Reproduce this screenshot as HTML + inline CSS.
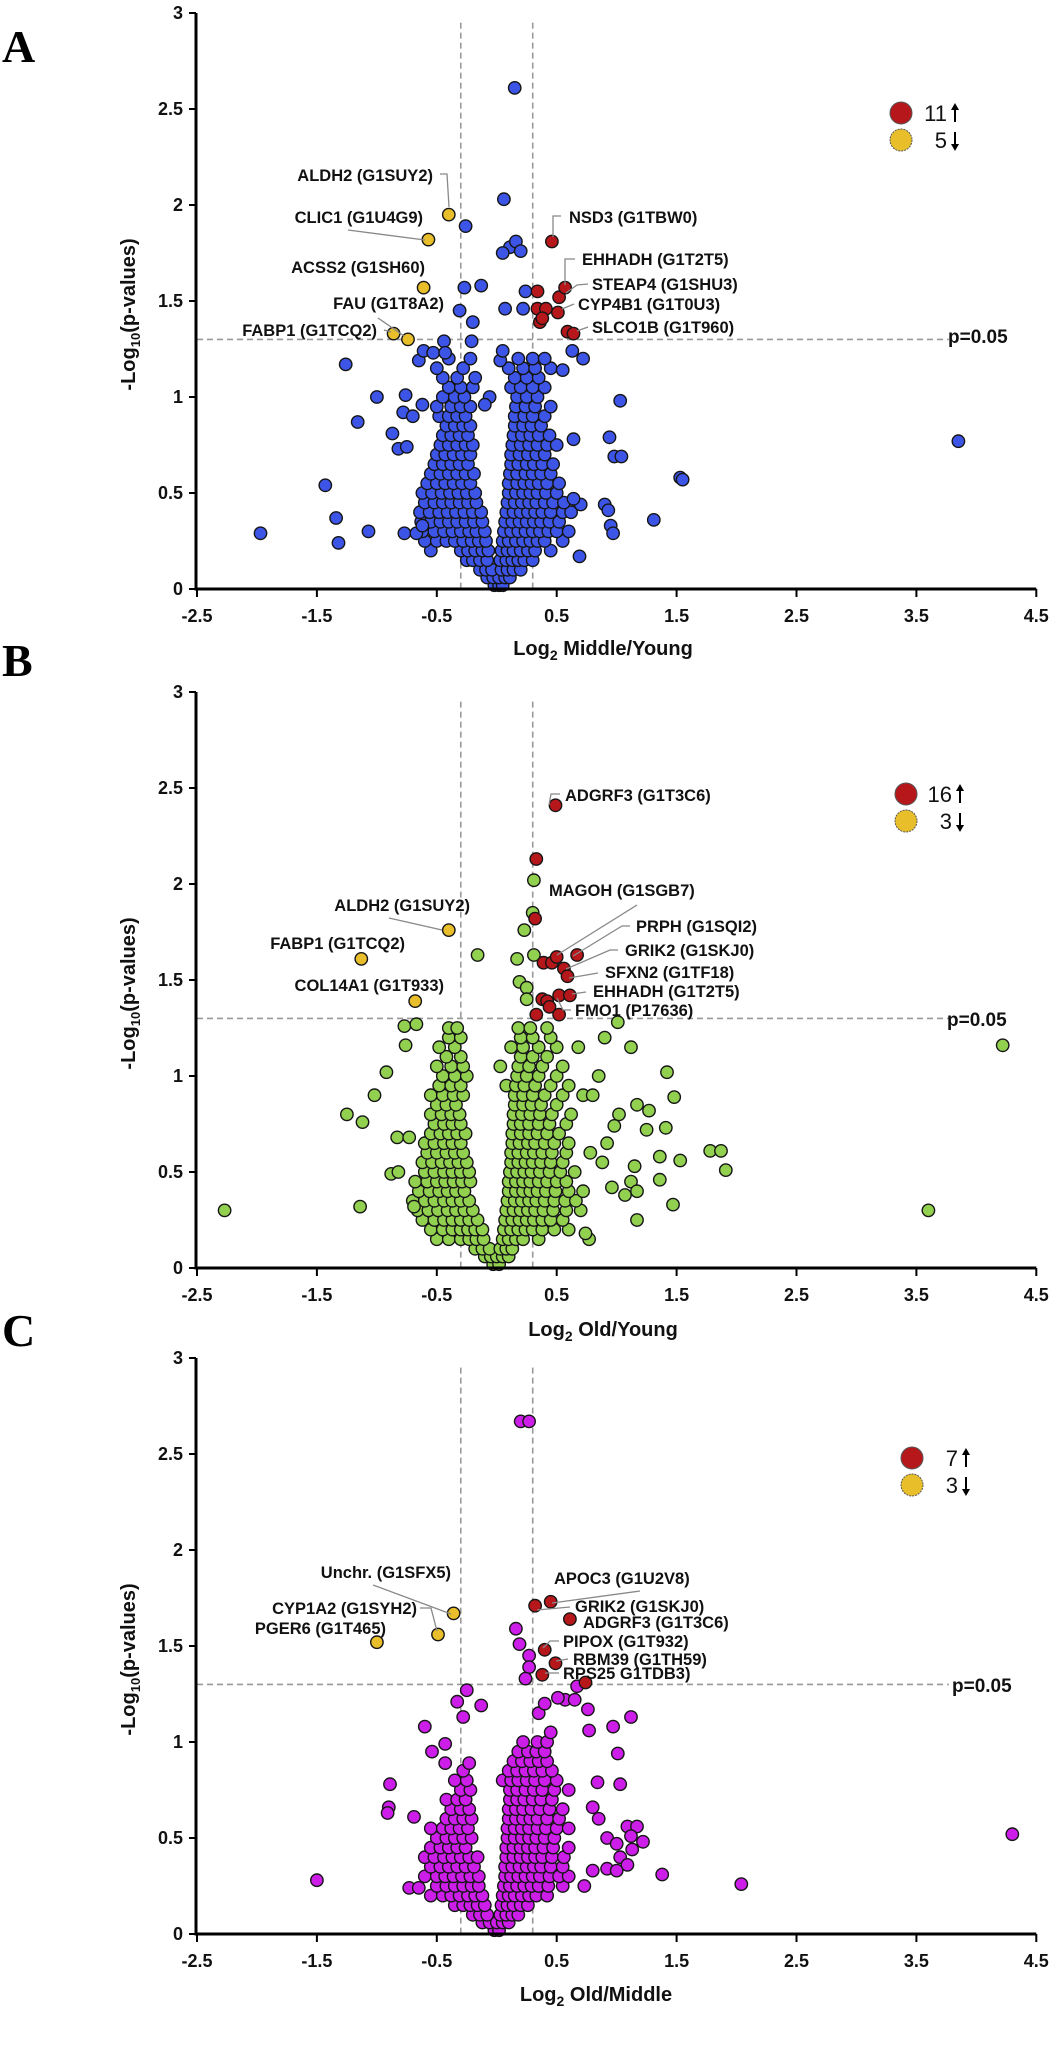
<!DOCTYPE html>
<html><head><meta charset="utf-8">
<style>
html,body{margin:0;padding:0;background:#fff;}
svg{display:block;font-family:"Liberation Sans",Arial,sans-serif;}
.lbl{font-weight:bold;font-size:16.5px;fill:#111;}
.tick{font-weight:bold;font-size:18px;fill:#111;}
.pl{font-weight:bold;font-size:19px;fill:#111;}
.ttl{font-weight:bold;font-size:20px;fill:#111;}
.leg{font-size:22px;fill:#111;}
.panel{font-family:"Liberation Serif",serif;font-weight:bold;font-size:46px;fill:#000;}
.ld{stroke:#888;stroke-width:1.3;fill:none;}
</style></head>
<body>
<svg id="fig" width="1053" height="2064" viewBox="0 0 1053 2064" xmlns="http://www.w3.org/2000/svg">
<rect width="1053" height="2064" fill="#fff"/>
<text class="panel" x="2" y="62">A</text>
<text class="panel" x="2" y="676">B</text>
<text class="panel" x="2" y="1346">C</text>
<g id="gA"></g>
<g id="gB"></g>
<g id="gC"></g>

<g>
<text class="lbl" x="433" y="181" text-anchor="end">ALDH2 (G1SUY2)</text>
<polyline class="ld" points="440,174 447,174 449,207"/>
<text class="lbl" x="423" y="223" text-anchor="end">CLIC1 (G1U4G9)</text>
<polyline class="ld" points="348,230 425,240"/>
<text class="lbl" x="425" y="273" text-anchor="end">ACSS2 (G1SH60)</text>
<text class="lbl" x="444" y="309" text-anchor="end">FAU (G1T8A2)</text>
<polyline class="ld" points="378,318 404,336"/>
<text class="lbl" x="377" y="336" text-anchor="end">FABP1 (G1TCQ2)</text>
<polyline class="ld" points="384,330 391,332"/>
<text class="lbl" x="569" y="223">NSD3 (G1TBW0)</text>
<polyline class="ld" points="553,237 553,216 561,216"/>
<text class="lbl" x="582" y="265">EHHADH (G1T2T5)</text>
<polyline class="ld" points="565,285 565,259 575,259"/>
<text class="lbl" x="592" y="290">STEAP4 (G1SHU3)</text>
<polyline class="ld" points="566,293 577,285 588,284"/>
<text class="lbl" x="578" y="310">CYP4B1 (G1T0U3)</text>
<polyline class="ld" points="562,309 574,304"/>
<text class="lbl" x="592" y="333">SLCO1B (G1T960)</text>
<polyline class="ld" points="577,331 588,327"/>
<text class="pl" x="948" y="343">p=0.05</text>
<text class="ttl" x="603" y="655" text-anchor="middle">Log<tspan font-size="14" dy="5">2</tspan><tspan dy="-5"> Middle/Young</tspan></text>
</g>

<g transform="translate(0,-18)">
<text class="lbl" x="565" y="819">ADGRF3 (G1T3C6)</text>
<polyline class="ld" points="549,823 551,812 560,812"/>
<text class="lbl" x="549" y="914">MAGOH (G1SGB7)</text>
<polyline class="ld" points="637,923 557,973"/>
<text class="lbl" x="636" y="950">PRPH (G1SQI2)</text>
<polyline class="ld" points="630,944 622,944 573,974"/>
<text class="lbl" x="625" y="974">GRIK2 (G1SKJ0)</text>
<polyline class="ld" points="618,968 610,968 566,987"/>
<text class="lbl" x="605" y="996">SFXN2 (G1TF18)</text>
<polyline class="ld" points="598,991 569,996"/>
<text class="lbl" x="593" y="1015">EHHADH (G1T2T5)</text>
<polyline class="ld" points="586,1010 572,1012"/>
<text class="lbl" x="575" y="1034">FMO1 (P17636)</text>
<polyline class="ld" points="571,1028 563,1028 557,1016"/>
<text class="lbl" x="470" y="929" text-anchor="end">ALDH2 (G1SUY2)</text>
<polyline class="ld" points="389,936 442,948"/>
<text class="lbl" x="405" y="967" text-anchor="end">FABP1 (G1TCQ2)</text>
<text class="lbl" x="444" y="1009" text-anchor="end">COL14A1 (G1T933)</text>
<text class="pl" x="947" y="1044">p=0.05</text>
<text class="ttl" x="603" y="1354" text-anchor="middle">Log<tspan font-size="14" dy="5">2</tspan><tspan dy="-5"> Old/Young</tspan></text>
</g>

<g transform="translate(0,-49)">
<text class="lbl" x="451" y="1627" text-anchor="end">Unchr. (G1SFX5)</text>
<polyline class="ld" points="373,1634 451,1663"/>
<text class="lbl" x="417" y="1663" text-anchor="end">CYP1A2 (G1SYH2)</text>
<polyline class="ld" points="420,1657 431,1657 437,1680"/>
<text class="lbl" x="386" y="1683" text-anchor="end">PGER6 (G1T465)</text>
<text class="lbl" x="554" y="1633">APOC3 (G1U2V8)</text>
<polyline class="ld" points="640,1640 552,1652"/>
<text class="lbl" x="575" y="1661">GRIK2 (G1SKJ0)</text>
<polyline class="ld" points="570,1656 537,1659"/>
<text class="lbl" x="583" y="1677">ADGRF3 (G1T3C6)</text>
<text class="lbl" x="563" y="1696">PIPOX (G1T932)</text>
<polyline class="ld" points="559,1690 550,1690 543,1697"/>
<text class="lbl" x="573" y="1714">RBM39 (G1TH59)</text>
<polyline class="ld" points="568,1708 556,1710"/>
<text class="lbl" x="563" y="1728">RPS25 G1TDB3)</text>
<polyline class="ld" points="559,1722 545,1722"/>
<text class="pl" x="952" y="1741">p=0.05</text>
<text class="ttl" x="596" y="2050" text-anchor="middle">Log<tspan font-size="14" dy="5">2</tspan><tspan dy="-5"> Old/Middle</tspan></text>
</g>
</svg>

<script>
const xTicks=[-2.5,-1.5,-0.5,0.5,1.5,2.5,3.5,4.5];
const xTickLabels=['-2.5','-1.5','-0.5','0.5','1.5','2.5','3.5','4.5'];
const yTicks=[0,0.5,1,1.5,2,2.5,3];
const yTickLabels=['0','0.5','1','1.5','2','2.5','3'];
const foldCut=[-0.3,0.3];
const pCut=1.3;

const coreA=[
[0.02,[-0.02,0.02,0.05]],
[0.06,[-0.08,-0.03,0.02,0.07,0.11]],
[0.10,[-0.14,-0.09,-0.04,0.04,0.09,0.14,0.2]],
[0.15,[-0.25,-0.2,-0.14,-0.08,0.03,0.08,0.13,0.18,0.23,0.3]],
[0.20,[-0.55,-0.3,-0.24,-0.18,-0.12,-0.07,0.04,0.09,0.14,0.2,0.26,0.32,0.45]],
[0.25,[-0.6,-0.5,-0.42,-0.35,-0.28,-0.21,-0.15,-0.09,0.05,0.1,0.16,0.22,0.28,0.34,0.4,0.55]],
[0.30,[-0.62,-0.52,-0.44,-0.37,-0.3,-0.23,-0.17,-0.1,0.06,0.12,0.18,0.24,0.3,0.36,0.43,0.5,0.6]],
[0.35,[-0.63,-0.55,-0.47,-0.4,-0.33,-0.26,-0.19,-0.12,0.07,0.13,0.19,0.25,0.31,0.37,0.44,0.52]],
[0.40,[-0.64,-0.56,-0.48,-0.41,-0.34,-0.27,-0.2,-0.13,0.08,0.14,0.2,0.26,0.32,0.38,0.45,0.55,0.62]],
[0.45,[-0.6,-0.52,-0.45,-0.38,-0.31,-0.24,-0.17,0.09,0.15,0.21,0.27,0.33,0.4,0.47,0.56]],
[0.50,[-0.62,-0.54,-0.46,-0.39,-0.32,-0.25,-0.18,0.1,0.16,0.22,0.28,0.34,0.41,0.5]],
[0.55,[-0.58,-0.5,-0.43,-0.36,-0.29,-0.22,0.1,0.17,0.23,0.29,0.35,0.42,0.52]],
[0.60,[-0.55,-0.47,-0.4,-0.33,-0.26,-0.19,0.11,0.17,0.24,0.3,0.37,0.45]],
[0.65,[-0.52,-0.45,-0.38,-0.31,-0.24,0.12,0.18,0.25,0.31,0.38,0.47]],
[0.70,[-0.5,-0.43,-0.36,-0.29,-0.22,0.12,0.19,0.26,0.33,0.4]],
[0.75,[-0.47,-0.4,-0.33,-0.26,-0.2,0.13,0.2,0.27,0.34,0.42,0.5]],
[0.80,[-0.45,-0.38,-0.31,-0.24,0.14,0.21,0.28,0.35,0.44]],
[0.85,[-0.42,-0.35,-0.28,-0.22,0.15,0.22,0.29,0.37]],
[0.90,[-0.48,-0.4,-0.33,-0.26,0.15,0.23,0.3,0.4]],
[0.95,[-0.5,-0.38,-0.3,-0.22,0.16,0.24,0.32,0.45]],
[1.00,[-0.45,-0.35,-0.27,0.17,0.25,0.34]],
[1.05,[-0.4,-0.3,-0.2,0.12,0.2,0.3,0.4]],
[1.10,[-0.45,-0.33,-0.18,0.15,0.25,0.35]],
[1.15,[-0.5,-0.28,0.1,0.22,0.32,0.45]],
[1.20,[-0.4,-0.22,0.18,0.3,0.4]]];
const outA=[[0.15,2.61],[0.06,2.03],[-0.26,1.89],[0.11,1.78],[0.16,1.81],[0.05,1.75],[0.2,1.76],[-0.27,1.57],[-0.13,1.58],[0.07,1.46],[-0.31,1.45],[-0.2,1.39],[-0.21,1.29],[0.24,1.55],[0.22,1.46],
[-1.26,1.17],[-1.0,1.0],[-1.16,0.87],[-1.43,0.54],[-0.87,0.81],[-0.82,0.73],[-0.75,0.74],[-0.76,1.01],[-0.78,0.92],[-0.7,0.9],[-0.62,0.96],[-0.65,1.19],[-0.61,1.24],[-0.53,1.23],[-0.44,1.29],[-0.43,1.23],[0.03,1.19],[0.05,1.24],[-0.06,1.0],[-0.1,0.96],
[1.03,0.98],[3.85,0.77],[0.72,1.2],[0.63,1.24],[0.55,1.14],[0.94,0.79],[0.64,0.78],[0.98,0.69],[1.04,0.69],[1.53,0.58],
[-1.97,0.29],[-1.34,0.37],[-1.32,0.24],[-1.07,0.3],[-0.77,0.29],[-0.67,0.29],[-0.62,0.33],[0.69,0.17],[0.9,0.44],[0.93,0.41],[0.95,0.33],[0.97,0.29],[1.31,0.36],[0.7,0.44],[1.55,0.57],[0.64,0.47]];
const upA=[[0.46,1.81],[0.34,1.55],[0.34,1.46],[0.41,1.46],[0.36,1.39],[0.38,1.41],[0.52,1.52],[0.57,1.57],[0.51,1.44],[0.59,1.34],[0.64,1.33]];
const downA=[[-0.4,1.95],[-0.57,1.82],[-0.61,1.57],[-0.74,1.3],[-0.86,1.33]];

const coreB=[
[0.02,[-0.03,0.02]],
[0.06,[-0.1,-0.05,0.0,0.05,0.1]],
[0.10,[-0.18,-0.12,-0.06,0.03,0.08,0.13]],
[0.15,[-0.5,-0.4,-0.3,-0.23,-0.17,-0.11,0.05,0.1,0.16,0.22,0.35]],
[0.20,[-0.55,-0.45,-0.37,-0.3,-0.24,-0.18,-0.12,0.06,0.12,0.18,0.24,0.3,0.38,0.48,0.6]],
[0.25,[-0.62,-0.52,-0.44,-0.37,-0.3,-0.23,-0.16,0.07,0.13,0.19,0.25,0.31,0.38,0.45,0.55]],
[0.30,[-0.66,-0.57,-0.49,-0.41,-0.34,-0.27,-0.2,0.08,0.14,0.2,0.26,0.32,0.39,0.47,0.58,0.7]],
[0.35,[-0.7,-0.6,-0.52,-0.44,-0.37,-0.3,-0.23,0.09,0.15,0.21,0.27,0.33,0.4,0.48,0.57,0.66]],
[0.40,[-0.65,-0.56,-0.48,-0.41,-0.34,-0.27,0.1,0.16,0.22,0.28,0.34,0.41,0.49,0.6,0.72]],
[0.45,[-0.68,-0.58,-0.5,-0.43,-0.36,-0.29,-0.22,0.1,0.16,0.22,0.28,0.35,0.42,0.5,0.58]],
[0.50,[-0.6,-0.52,-0.44,-0.37,-0.3,-0.23,0.11,0.17,0.23,0.29,0.36,0.44,0.53,0.65]],
[0.55,[-0.62,-0.54,-0.46,-0.39,-0.32,-0.25,0.12,0.18,0.24,0.3,0.37,0.45,0.55]],
[0.60,[-0.58,-0.5,-0.42,-0.35,-0.28,0.12,0.18,0.25,0.31,0.38,0.46,0.58,0.78]],
[0.65,[-0.6,-0.52,-0.44,-0.37,-0.3,0.13,0.19,0.26,0.32,0.4,0.48,0.6]],
[0.70,[-0.55,-0.47,-0.4,-0.33,-0.26,0.13,0.2,0.27,0.34,0.42,0.52]],
[0.75,[-0.52,-0.44,-0.37,-0.3,0.14,0.2,0.27,0.35,0.44,0.58]],
[0.80,[-0.55,-0.46,-0.38,-0.31,0.14,0.21,0.28,0.36,0.46,0.62]],
[0.85,[-0.5,-0.42,-0.34,0.15,0.22,0.29,0.37,0.5]],
[0.90,[-0.55,-0.45,-0.36,-0.28,0.15,0.22,0.3,0.4,0.55,0.72]],
[0.95,[-0.48,-0.38,-0.3,0.08,0.16,0.23,0.32,0.45,0.6]],
[1.00,[-0.45,-0.35,-0.25,0.17,0.25,0.35,0.5]],
[1.05,[-0.5,-0.38,-0.28,0.03,0.18,0.27,0.38,0.55]],
[1.10,[-0.42,-0.3,0.2,0.3,0.42]],
[1.15,[-0.48,-0.35,0.12,0.22,0.35,0.5,0.68]],
[1.20,[-0.4,-0.3,0.2,0.3,0.45]],
[1.25,[-0.4,-0.33,0.18,0.28,0.42]]];
const outB=[[-2.27,0.3],[-1.14,0.32],[-1.25,0.8],[-1.12,0.76],[-0.92,1.02],[-1.02,0.9],[-0.77,1.26],[-0.67,1.27],[-0.76,1.16],[-0.16,1.63],[0.31,2.02],[0.3,1.85],[0.23,1.76],[0.17,1.61],[0.31,1.63],[0.19,1.49],[0.25,1.46],[0.25,1.4],
[1.01,1.28],[1.12,1.15],[1.42,1.02],[1.48,0.89],[1.17,0.85],[1.27,0.82],[1.25,0.72],[1.41,0.73],[1.02,0.8],[0.98,0.74],[1.78,0.61],[1.87,0.61],[1.91,0.51],[1.53,0.56],[1.36,0.58],[1.36,0.46],[1.15,0.53],[1.12,0.45],[1.17,0.4],[1.17,0.25],[1.47,0.33],[0.96,0.42],[1.07,0.38],[0.77,0.15],[0.74,0.18],
[-0.88,0.49],[-0.82,0.5],[-0.69,0.32],[-0.83,0.68],[-0.73,0.68],[3.6,0.3],[4.22,1.16],[0.85,1.0],[0.9,1.2],[0.8,0.9],[0.88,0.55],[0.92,0.65]];
const upB=[[0.49,2.41],[0.33,2.13],[0.32,1.82],[0.39,1.59],[0.46,1.59],[0.5,1.62],[0.67,1.63],[0.56,1.56],[0.59,1.52],[0.38,1.4],[0.42,1.39],[0.44,1.36],[0.52,1.42],[0.61,1.42],[0.33,1.32],[0.52,1.32]];
const downB=[[-0.4,1.76],[-1.13,1.61],[-0.68,1.39]];

const coreC=[
[0.02,[-0.02,0.02]],
[0.06,[-0.12,-0.06,0.0,0.05,0.1]],
[0.10,[-0.2,-0.14,-0.08,0.03,0.08,0.13,0.18]],
[0.15,[-0.35,-0.28,-0.22,-0.16,-0.1,0.04,0.09,0.14,0.2,0.26]],
[0.20,[-0.55,-0.45,-0.38,-0.31,-0.24,-0.18,-0.12,0.05,0.1,0.15,0.21,0.27,0.33,0.42]],
[0.25,[-0.5,-0.42,-0.35,-0.28,-0.21,-0.15,0.06,0.11,0.17,0.23,0.29,0.35,0.43,0.55]],
[0.30,[-0.6,-0.5,-0.43,-0.36,-0.29,-0.22,-0.15,0.07,0.12,0.18,0.24,0.3,0.36,0.44,0.52,0.6]],
[0.35,[-0.55,-0.47,-0.4,-0.33,-0.26,-0.19,0.07,0.13,0.19,0.25,0.31,0.37,0.45,0.55]],
[0.40,[-0.6,-0.52,-0.44,-0.37,-0.3,-0.23,-0.16,0.08,0.14,0.2,0.26,0.32,0.38,0.46,0.56]],
[0.45,[-0.55,-0.47,-0.4,-0.33,-0.26,0.08,0.14,0.2,0.26,0.32,0.39,0.47,0.6]],
[0.50,[-0.5,-0.42,-0.35,-0.28,-0.21,0.09,0.15,0.21,0.27,0.33,0.4,0.48]],
[0.55,[-0.55,-0.45,-0.38,-0.31,-0.24,0.09,0.15,0.21,0.27,0.34,0.41,0.5,0.6]],
[0.60,[-0.42,-0.35,-0.28,-0.21,0.1,0.16,0.22,0.28,0.34,0.42,0.52]],
[0.65,[-0.38,-0.3,-0.23,0.1,0.16,0.22,0.29,0.36,0.44,0.55]],
[0.70,[-0.42,-0.33,-0.26,0.11,0.17,0.23,0.3,0.37,0.46]],
[0.75,[-0.3,-0.22,0.11,0.17,0.24,0.31,0.38,0.48,0.6]],
[0.80,[-0.35,-0.25,0.05,0.12,0.18,0.25,0.32,0.4,0.5]],
[0.85,[-0.28,0.1,0.17,0.24,0.31,0.38,0.46]],
[0.90,[0.14,0.21,0.28,0.35,0.42]],
[0.95,[0.18,0.26,0.33,0.4]],
[1.00,[0.22,0.34,0.42]]];
const outC=[[0.2,2.67],[0.27,2.67],[0.16,1.59],[0.19,1.51],[0.27,1.45],[0.27,1.39],[0.24,1.33],[0.67,1.29],[-0.25,1.27],[-0.33,1.21],[-0.28,1.13],[-0.13,1.19],[-0.6,1.08],[-0.43,0.99],[-0.54,0.95],[-0.43,0.89],[-0.23,0.89],[-0.89,0.78],[-0.9,0.66],[-0.91,0.63],[-0.69,0.61],[-1.5,0.28],[-0.73,0.24],[-0.65,0.24],
[0.76,1.17],[1.12,1.13],[0.97,1.08],[0.77,1.06],[1.01,0.94],[1.03,0.78],[0.84,0.79],[0.8,0.66],[0.85,0.6],[1.09,0.56],[1.17,0.56],[1.22,0.48],[1.12,0.51],[0.92,0.5],[1.0,0.47],[1.03,0.4],[1.13,0.44],[1.09,0.36],[0.92,0.34],[1.0,0.33],[0.8,0.33],[0.73,0.25],[0.57,1.22],[0.65,1.22],[0.51,1.23],[2.04,0.26],[4.3,0.52],[1.38,0.31],[0.35,1.15],[0.45,1.05],[0.4,1.2]];
const upC=[[0.45,1.73],[0.32,1.71],[0.61,1.64],[0.4,1.48],[0.49,1.41],[0.38,1.35],[0.74,1.31]];
const downC=[[-0.36,1.67],[-0.49,1.56],[-1.0,1.52]];

const legendCounts=[[11,5],[16,3],[7,3]];

const NS='http://www.w3.org/2000/svg';
const X0=197, XPU=119.9, XMIN=-2.5, XMAX=4.5;
const panels=[
 {g:'gA',core:coreA,out:outA,up:upA,down:downA,color:'#3d55e6',zero:589,ppu:192,leg:[901,113]},
 {g:'gB',core:coreB,out:outB,up:upB,down:downB,color:'#92d050',zero:1268,ppu:192,leg:[906,794]},
 {g:'gC',core:coreC,out:outC,up:upC,down:downC,color:'#cc1ee8',zero:1934,ppu:192,leg:[912,1458]}];

function mk(tag,attrs,parent){const e=document.createElementNS(NS,tag);for(const k in attrs)e.setAttribute(k,attrs[k]);parent.appendChild(e);return e;}

panels.forEach((p,pi)=>{
 const g=document.getElementById(p.g);
 const sx=v=>X0+(v-XMIN)*XPU;
 const sy=v=>p.zero-v*p.ppu;
 foldCut.forEach(c=>{
  const l=mk('line',{x1:sx(c),x2:sx(c),y1:sy(2.95),y2:sy(0),stroke:'#999','stroke-width':1.6,'stroke-dasharray':'6,4'},g);
  
  
 });
 const h=mk('line',{x1:sx(XMIN),x2:sx(3.77),y1:sy(pCut),y2:sy(pCut),stroke:'#999','stroke-width':1.6,'stroke-dasharray':'6,4'},g);
 
 
 const dot=(x,y,fill,name)=>{
  const c=mk('circle',{cx:sx(x).toFixed(1),cy:sy(y).toFixed(1),r:6.2,fill:fill,stroke:'#151515','stroke-width':1.4},g);
  
  
 };
 p.core.forEach(row=>row[1].forEach(x=>dot(x,row[0],p.color,'protein-point')));
 p.out.forEach(d=>dot(d[0],d[1],p.color,'protein-point'));
 p.down.forEach(d=>dot(d[0],d[1],'#e8bf2a','down-regulated-point'));
 p.up.forEach(d=>dot(d[0],d[1],'#b5171b','up-regulated-point'));
 const ya=mk('line',{x1:X0-1,x2:X0-1,y1:sy(3),y2:sy(0)+1.5,stroke:'#000','stroke-width':3},g);
 
 
 const xa=mk('line',{x1:X0-2,x2:sx(XMAX),y1:sy(0),y2:sy(0),stroke:'#000','stroke-width':3},g);
 
 
 yTicks.forEach((t,i)=>{
  mk('line',{x1:X0-8,x2:X0-1,y1:sy(t),y2:sy(t),stroke:'#000','stroke-width':2},g);
  const tx=mk('text',{x:X0-14,y:sy(t)+6,'text-anchor':'end',class:'tick'},g);
  tx.textContent=yTickLabels[i];
  
  
 });
 xTicks.forEach((t,i)=>{
  mk('line',{x1:sx(t),x2:sx(t),y1:sy(0),y2:sy(0)+8,stroke:'#000','stroke-width':2},g);
  const tx=mk('text',{x:sx(t),y:sy(0)+33,'text-anchor':'middle',class:'tick'},g);
  tx.textContent=xTickLabels[i];
  
  
 });
 const cy=sy(1.43);
 const yt=mk('text',{x:135,y:cy,'text-anchor':'middle',class:'ttl',transform:'rotate(-90 135 '+cy+')'},g);
 yt.innerHTML='-Log<tspan font-size="13" dy="5">10</tspan><tspan dy="-5">(p-values)</tspan>';
 
 
 const [lx,ly]=p.leg;
 const lr=mk('circle',{cx:lx,cy:ly,r:11,fill:'#b5171b',stroke:'#555','stroke-width':1},g);
 
 
 const lyel=mk('circle',{cx:lx,cy:ly+27,r:11,fill:'#e8bf2a',stroke:'#555','stroke-width':1,'stroke-dasharray':'2,1'},g);
 
 
 const t1=mk('text',{x:lx+46,y:ly+8,'text-anchor':'end',class:'leg'},g);
 t1.textContent=legendCounts[pi][0]+'';
 
 
 const t2=mk('text',{x:lx+46,y:ly+35,'text-anchor':'end',class:'leg'},g);
 t2.textContent=legendCounts[pi][1]+'';
 
 
 const ax=lx+54;
 mk('line',{x1:ax,x2:ax,y1:ly-8,y2:ly+9,stroke:'#000','stroke-width':2},g);
 mk('path',{d:'M'+(ax-4)+' '+(ly-3)+' L'+ax+' '+(ly-10)+' L'+(ax+4)+' '+(ly-3)+' Z',fill:'#000'},g);
 mk('line',{x1:ax,x2:ax,y1:ly+19,y2:ly+36,stroke:'#000','stroke-width':2},g);
 mk('path',{d:'M'+(ax-4)+' '+(ly+31)+' L'+ax+' '+(ly+38)+' L'+(ax+4)+' '+(ly+31)+' Z',fill:'#000'},g);
});
</script>
</body></html>
